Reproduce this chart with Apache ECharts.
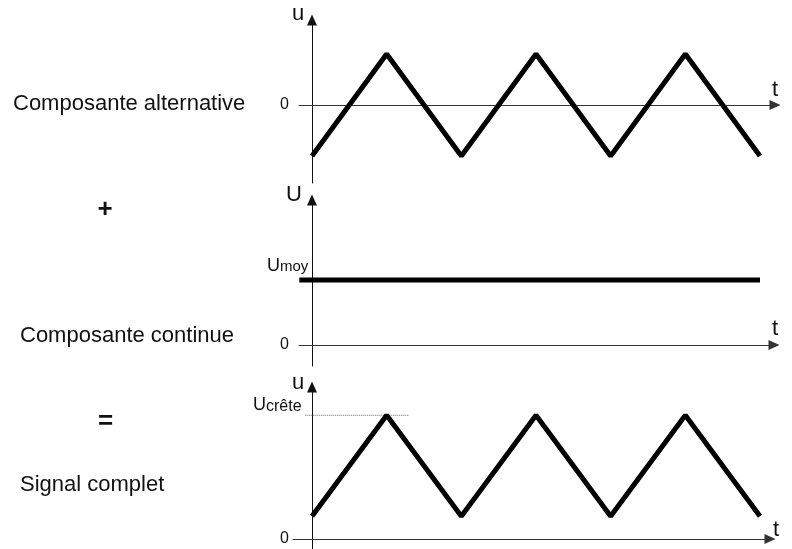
<html>
<head>
    <meta charset="utf-8" />
    <script src="https://cdn.jsdelivr.net/npm/echarts@6/dist/echarts.min.js"></script>
    <style>
        body { margin: 0; background: #fff; }
        #chart { width: 792px; height: 549px; }
    </style>
</head>
<body>
    <div id="chart"></div>
    <script type="text/javascript">
        // temps en demi-periodes
        var tTimes = [0, 1, 2, 3, 4, 5, 6];
        // composante alternative (u)
        var alternative = [-1, 1, -1, 1, -1, 1, -1];
        // composante continue (U = Umoy)
        var continueT = [-0.17, 6];
        var continueU = [1.45, 1.45];
        // signal complet (u)
        var complet = [0.45, 2.45, 0.45, 2.45, 0.45, 2.45, 0.45];
        // niveau crete + portion pointillee
        var creteT = [-0.09, 1.29];
        var creteU = [2.45, 2.45];

        var FONT = "'Liberation Sans', Arial, sans-serif";

        function pairs(xs, ys) {
            return xs.map(function (x, i) { return [x, ys[i]]; });
        }

        function xAx(idx, min, max) {
            return {
                type: 'value', gridIndex: idx, min: min, max: max,
                axisLine: { onZero: true, symbol: ['none', 'triangle'], symbolSize: [10, 11],
                    lineStyle: { color: '#333', width: 1 } },
                axisTick: { show: false }, splitLine: { show: false }, axisLabel: { show: false }
            };
        }
        // la marge des labels se compte depuis le bord gauche de la grille
        function yAx(idx, min, max, margin) {
            return {
                type: 'value', gridIndex: idx, min: min, max: max,
                axisLine: { onZero: true, symbol: ['none', 'triangle'], symbolSize: [10, 11],
                    lineStyle: { color: '#111', width: 1 } },
                axisTick: { show: false }, splitLine: { show: false },
                axisLabel: { show: true, customValues: [0], margin: margin,
                    color: '#111', fontSize: 16, fontFamily: FONT, formatter: function () { return '0'; } }
            };
        }
        function txt(s, x, y, size, align, bold) {
            return { type: 'text', x: x, y: y, silent: true,
                style: { text: s, fill: '#111', font: (bold ? 'bold ' : '') + size + 'px ' + FONT,
                    align: align || 'left', verticalAlign: 'middle' } };
        }

        var chart = echarts.init(document.getElementById('chart'), null, { renderer: 'canvas' });
        var option = {
            animation: false,
            backgroundColor: '#fff',
            grid: [
                { left: 299, top: 20, width: 476, height: 163 },
                { left: 299, top: 200, width: 475, height: 166 },
                { left: 293, top: 387, width: 477, height: 162 }
            ],
            xAxis: [
                xAx(0, -0.1741, 6.2009),
                xAx(1, -0.1741, 6.1875),
                xAx(2, -0.2545, 6.134)
            ],
            yAxis: [
                yAx(0, -1.5294, 1.6667, 10),
                yAx(1, -0.4685, 3.2346, 10),
                yAx(2, -0.198, 3.0099, 4)
            ],
            series: [
                { type: 'line', xAxisIndex: 0, yAxisIndex: 0, data: pairs(tTimes, alternative),
                  symbol: 'none', lineStyle: { color: '#000', width: 5, join: 'bevel', cap: 'butt' } },
                { type: 'line', xAxisIndex: 1, yAxisIndex: 1, data: pairs(continueT, continueU),
                  symbol: 'none', lineStyle: { color: '#000', width: 5, cap: 'butt' } },
                { type: 'line', xAxisIndex: 2, yAxisIndex: 2, data: pairs(creteT, creteU),
                  symbol: 'none', lineStyle: { color: '#666', width: 1, type: 'dotted' } },
                { type: 'line', xAxisIndex: 2, yAxisIndex: 2, data: pairs(tTimes, complet),
                  symbol: 'none', lineStyle: { color: '#000', width: 5, join: 'bevel', cap: 'butt' } }
            ],
            graphic: [
                txt('Composante alternative', 13, 103.5, 22),
                txt('+', 105, 210, 26, 'center', true),
                txt('Composante continue', 20, 336, 22),
                txt('=', 105.5, 422, 26, 'center', true),
                txt('Signal complet', 20, 484.5, 22),
                // noms des axes
                txt('u', 298, 13.5, 22, 'center'),
                txt('t', 775, 90.4, 22, 'center'),
                txt('U', 294, 195, 22, 'center'),
                txt('t', 775, 329.4, 22, 'center'),
                txt('u', 298, 382.5, 22, 'center'),
                txt('t', 776, 530.4, 22, 'center'),
                // Umoy et Ucrete
                txt('U', 267, 266, 18),
                txt('moy', 280, 267, 15),
                txt('U', 253, 405.5, 18),
                txt('cr\u00eate', 266, 406.5, 16)
            ]
        };
        chart.setOption(option);
    </script>
</body>
</html>
